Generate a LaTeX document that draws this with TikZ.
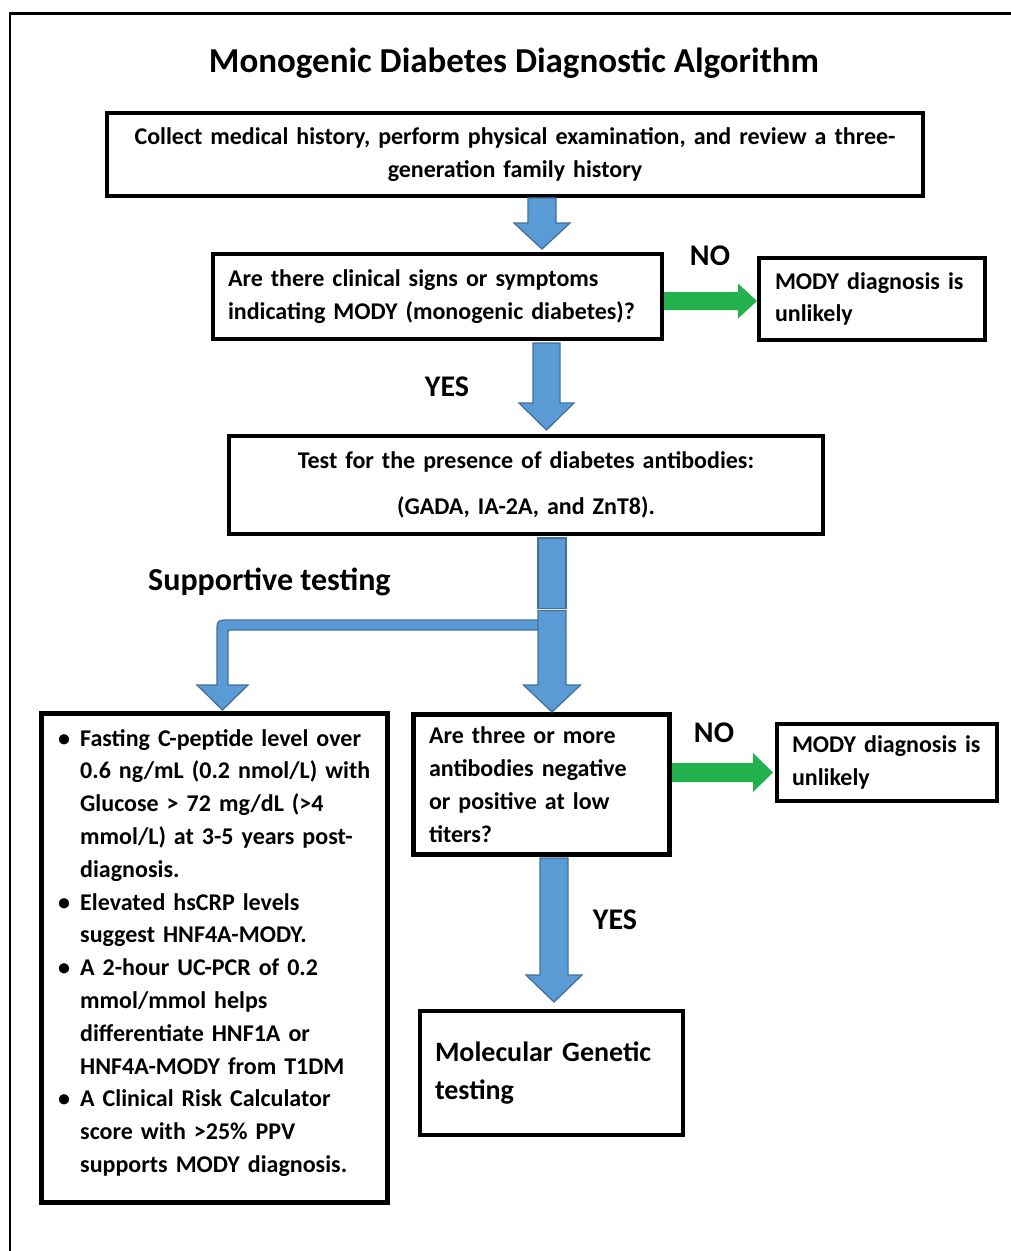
\documentclass[tikz,border=0pt]{standalone}
\usepackage{fontspec}
\setmainfont{Carlito}
\definecolor{arrowblue}{HTML}{5B9BD5}
\definecolor{arrowedge}{HTML}{41719C}
\definecolor{arrowgreen}{HTML}{22B14C}
\newcommand\blockdown[6]{%
  \draw[barrow] (#1-#5,#2) -- (#1-#5,#3) -- (#1-#6,#3) -- (#1,#4) -- (#1+#6,#3) -- (#1+#5,#3) -- (#1+#5,#2) -- cycle;}
\newcommand\blockright[6]{%
  \fill[arrowgreen] (#2,#1-#5) -- (#3,#1-#5) -- (#3,#1-#6) -- (#4,#1) -- (#3,#1+#6) -- (#3,#1+#5) -- (#2,#1+#5) -- cycle;}
\newcommand\bul{\hangindent=23pt\hangafter=1\noindent\makebox[23pt][l]{\hspace{1pt}•}}
\begin{document}
\begin{tikzpicture}[x=1pt,y=-1pt,
  box/.style={draw, line width=4pt, rectangle, inner ysep=0pt,
    font=\bfseries\fontsize{24}{32.8}\selectfont},
  lbl/.style={font=\bfseries\fontsize{30}{34}\selectfont, inner sep=0pt},
  barrow/.style={fill=arrowblue, draw=arrowedge, line width=1.3pt, line join=miter}]
\useasboundingbox (0,0) rectangle (1011,1251);
\fill[white] (0,0) rectangle (1011,1251);
% frame
\draw[line width=3pt] (1011,13) -- (9.5,13);
\draw[line width=2.5pt] (10,11.5) -- (10,1251);
% title
\node[font=\bfseries\fontsize{35}{42}\selectfont, inner sep=0pt] (title) at (514,63) {Monogenic Diabetes Diagnostic Algorithm};
% boxes
\node[box, minimum width=816, minimum height=83, text width=790, inner xsep=13, align=center] (b1) at (515,154.5)
  {Collect medical history, perform physical examination, and review a three-\\generation family history};
\node[box, minimum width=449, minimum height=85, text width=419, inner xsep=15, align=left] (b2) at (437.5,296.5)
  {Are there clinical signs or symptoms\\indicating MODY (monogenic diabetes)?};
\node[box, minimum width=226, minimum height=82, text width=194, inner xsep=16, align=left] (b3) at (872,299)
  {MODY diagnosis is\\unlikely};
\node[box, minimum width=594, minimum height=98, text width=560, inner xsep=17, align=center] (b4) at (526,485)
  {Test for the presence of diabetes antibodies:\\[13pt](GADA, IA-2A, and ZnT8).};
\node[box, line width=5pt, minimum width=346, minimum height=489] (b5) at (214.5,958) {};
\node[font=\bfseries\fontsize{24}{32.8}\selectfont, text width=325, inner sep=0pt, align=left, anchor=north west] (b5t) at (57,729)
  {\bul Fasting C-peptide level over\newline 0.6 ng/mL (0.2 nmol/L) with\newline Glucose > 72 mg/dL (>4\newline mmol/L) at 3-5 years post-\newline diagnosis.\par
   \bul Elevated hsCRP levels\newline suggest HNF4A-MODY.\par
   \bul A 2-hour UC-PCR of 0.2\newline mmol/mmol helps\newline differentiate HNF1A or\newline HNF4A-MODY from T1DM\par
   \bul A Clinical Risk Calculator\newline score with >25\% PPV\newline supports MODY diagnosis.\par};
\node[box, line width=5pt, minimum width=256, minimum height=140, text width=225, inner xsep=15.5, align=left] (b6) at (541.5,784.5)
  {Are three or more\\antibodies negative\\or positive at low\\titers?};
\node[box, minimum width=220, minimum height=77, text width=190, inner xsep=15, align=left] (b7) at (887,762.5)
  {MODY diagnosis is\\unlikely};
\node[box, minimum width=263, minimum height=124, text width=233, inner xsep=15, align=left,
  font=\bfseries\fontsize{28}{38}\selectfont] (b8) at (551.5,1073)
  {Molecular Genetic\\testing};
% labels
\node[lbl] (no1) at (710,256) {NO};
\node[lbl] (yes1) at (447,387) {YES};
\node[lbl, anchor=west, font=\bfseries\fontsize{32}{36}\selectfont] (sup) at (148,582) {Supportive testing};
\node[lbl] (no2) at (714,733) {NO};
\node[lbl] (yes2) at (615,920) {YES};
% blue arrows
\blockdown{542}{198}{223}{249}{14}{28}
\blockdown{546.5}{343}{403}{430}{13.5}{27.5}
\draw[barrow] (538,538) rectangle (566,608.5);
\draw[barrow] (538.7,620) -- (230,620) .. controls (217,620) .. (217,633) -- (217,685) -- (197,685) -- (222.5,710) -- (248,685) -- (228,685) -- (228,634) .. controls (228,630) .. (232,630) -- (538.7,630);
\blockdown{552}{610.5}{685}{712}{14}{28.5}
\blockdown{554}{858}{975}{1002}{14}{28}
% green arrows
\blockright{301}{664}{738}{757}{9}{17.5}
\blockright{772.5}{672}{753}{773}{9.5}{19.5}
\end{tikzpicture}
\end{document}
